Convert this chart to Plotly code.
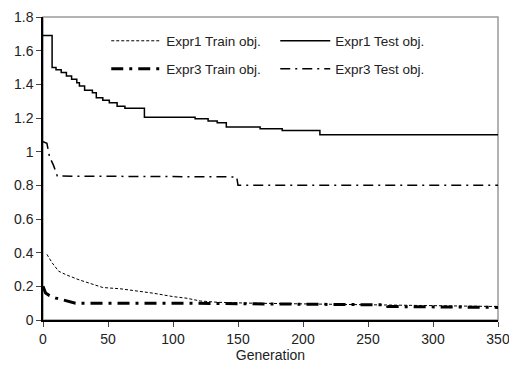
import plotly.graph_objects as go

# ---- data ----
e1_train_gen = [3, 7, 12, 18, 28, 35, 46, 60, 75, 85, 100, 110, 121, 135, 160, 200, 250, 300, 350]
e1_train_val = [0.39, 0.34, 0.29, 0.268, 0.238, 0.22, 0.193, 0.185, 0.17, 0.159, 0.139, 0.13, 0.113,
                0.105, 0.10, 0.095, 0.09, 0.085, 0.08]

e1_test_gen = [0, 7, 10, 14, 18, 22, 26, 28, 32, 38, 41, 46, 51, 57, 63, 78, 117, 127, 134, 141,
               167, 184, 213, 350]
e1_test_val = [1.69, 1.50, 1.486, 1.47, 1.45, 1.43, 1.41, 1.39, 1.365, 1.35, 1.32, 1.305, 1.29,
               1.27, 1.258, 1.205, 1.196, 1.182, 1.172, 1.146, 1.136, 1.126, 1.10, 1.10]

e3_train_gen = [0, 2, 5, 10, 15, 20, 25, 100, 200, 264, 265, 350]
e3_train_val = [0.20, 0.16, 0.145, 0.13, 0.12, 0.11, 0.10, 0.10, 0.095, 0.09, 0.08, 0.075]

e3_test_gen = [0, 3, 5, 8, 11, 149, 150, 350]
e3_test_val = [1.06, 1.05, 0.97, 0.92, 0.855, 0.85, 0.80, 0.80]

names = ["Expr1 Train obj.", "Expr1 Test obj.", "Expr3 Train obj.", "Expr3 Test obj."]
y_ticks = [0, 0.2, 0.4, 0.6, 0.8, 1, 1.2, 1.4, 1.6, 1.8]
x_ticks = [0, 50, 100, 150, 200, 250, 300, 350]

fig = go.Figure()
fig.add_trace(go.Scatter(x=e1_train_gen, y=e1_train_val, mode="lines", name=names[0], legend="legend",
                         line=dict(color="black", width=1, dash="3px,2px")))
fig.add_trace(go.Scatter(x=e1_test_gen, y=e1_test_val, mode="lines", name=names[1], legend="legend",
                         line=dict(color="black", width=1.5, shape="hv")))
fig.add_trace(go.Scatter(x=e3_train_gen, y=e3_train_val, mode="lines", name=names[2], legend="legend2",
                         line=dict(color="black", width=3, dash="12px,6px,3px,6px")))
fig.add_trace(go.Scatter(x=e3_test_gen, y=e3_test_val, mode="lines", name=names[3], legend="legend2",
                         line=dict(color="black", width=1.5, dash="10px,5px,2px,5px")))

fig.add_shape(type="rect", xref="x domain", yref="y domain", x0=0, x1=1, y0=0, y1=1,
              line=dict(color="#9a9a9a", width=1.5), layer="below")

leg_common = dict(orientation="h", xanchor="left", yanchor="middle",
                  entrywidth=104, entrywidthmode="pixels", itemwidth=50,
                  font=dict(size=13.5, color="#222"), bgcolor="rgba(0,0,0,0)")
fig.update_layout(
    width=509, height=365,
    margin=dict(l=43, r=11, t=17, b=45, autoexpand=False),
    paper_bgcolor="white", plot_bgcolor="white",
    font=dict(family="Liberation Sans, Arial, sans-serif", size=14, color="#222"),
    showlegend=True,
    legend=dict(x=0.139, y=(320 - 41) / 303, **leg_common),
    legend2=dict(x=0.139, y=(320 - 69) / 303, **leg_common),
)
fig.update_xaxes(range=[0, 350], tickvals=x_ticks, ticks="outside", ticklen=5,
                 ticklabeloverflow="allow", automargin=False,
                 showline=True, linecolor="black", linewidth=1.5, showgrid=False, zeroline=False,
                 title=dict(text="Generation", standoff=0, font=dict(size=14)))
fig.update_yaxes(range=[0, 1.8], tickvals=y_ticks, ticks="outside", ticklen=5, automargin=False,
                 showline=True, linecolor="black", linewidth=1.5, showgrid=False, zeroline=False)

fig.write_html("out.html", config={"displayModeBar": False},
               post_script="document.body.style.margin='0';document.body.style.padding='0';")
